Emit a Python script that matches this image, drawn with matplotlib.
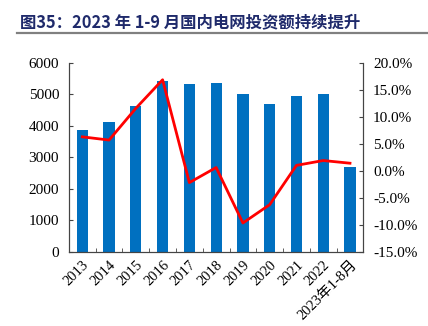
import matplotlib
matplotlib.use("Agg")
import matplotlib.pyplot as plt
import numpy as np
from matplotlib.lines import Line2D

plt.rcParams['font.family'] = ['Liberation Serif', 'Noto Sans CJK SC']

categories = ['2013', '2014', '2015', '2016', '2017', '2018', '2019',
              '2020', '2021', '2022', '2023年1-8月']
investment = [3884, 4118, 4630, 5431, 5334, 5376, 5016, 4697, 4952, 5016, 2700]
growth_pct = [6.3, 5.7, 11.6, 16.9, -2.2, 0.6, -9.7, -6.3, 1.0, 1.9, 1.4]

fig = plt.figure(figsize=(4.28, 3.26), dpi=100)
ax = fig.add_axes([0.161, 0.2285, 0.688, 0.578])
x = np.arange(len(categories))

ax.bar(x, investment, width=0.42, color='#0070C0', zorder=2)
ax.set_xlim(-0.5, len(categories) - 0.5)
ax.set_ylim(0, 6000)
ax.set_yticks(range(0, 6001, 1000))
ax.set_xticks(x)
ax.set_xticklabels(categories, rotation=45, ha='right', rotation_mode='anchor',
                   fontsize=10.5)
ax.set_xticks(np.arange(-0.5, len(categories), 1), minor=True)
ax.tick_params(axis='x', which='major', length=0, pad=5)
ax.tick_params(axis='x', which='minor', direction='in', length=3, color='#444444')
ax.tick_params(axis='y', direction='in', length=3, labelsize=11, pad=7,
               color='#444444')

ax2 = ax.twinx()
ax2.plot(x, growth_pct, color='#FF0000', linewidth=2.0, zorder=3)
ax2.set_ylim(-15, 20)
ax2.set_yticks(range(-15, 21, 5))
ax2.set_yticklabels([f'{v:.1f}%' for v in range(-15, 21, 5)])
ax2.tick_params(axis='y', direction='in', length=3, labelsize=11, pad=7,
                color='#444444')

for a in (ax, ax2):
    a.spines['top'].set_visible(False)
    for s in ('left', 'right', 'bottom'):
        a.spines[s].set_color('#444444')
        a.spines[s].set_linewidth(0.8)

fig.text(0.047, 0.933, '图35：2023 年 1-9 月国内电网投资额持续提升',
         fontsize=11.8, fontweight='bold', color='#1F2A6B',
         family=['Noto Sans CJK SC'], va='center', ha='left')
fig.add_artist(Line2D([0.04, 1.0], [0.9, 0.9], color='#808080', linewidth=1.6,
                      transform=fig.transFigure))

fig.savefig('out.png', dpi=100)
